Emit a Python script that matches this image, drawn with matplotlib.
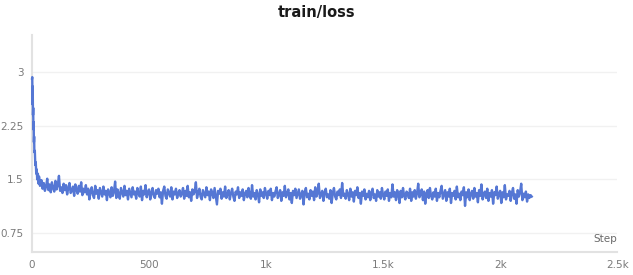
import numpy as np
import matplotlib.pyplot as plt

# ---------------------------------------------------------------------------
# Data (train/loss vs step)
# ---------------------------------------------------------------------------

early_steps = [0, 1, 2, 3, 4, 5, 6, 7, 8, 9, 10, 12, 14, 16, 18, 20, 22, 25, 28, 30, 34]
early_loss = [2.91, 2.93, 2.55, 2.80, 2.40, 2.50, 2.20, 2.30, 2.02, 2.10,
              1.88, 1.90, 1.70, 1.74, 1.58, 1.64, 1.50, 1.58, 1.44, 1.54, 1.41]

# every 5 steps from 40 to 2135
late_loss = [
    1.49, 1.37, 1.45, 1.34, 1.40, 1.51, 1.35, 1.43, 1.32, 1.46, 1.38, 1.33, 1.48, 1.36, 1.42, 1.55, 1.34, 1.39, 1.31, 1.44,
    1.35, 1.42, 1.29, 1.38, 1.45, 1.31, 1.34, 1.40, 1.27, 1.43, 1.36, 1.30, 1.41, 1.33, 1.46, 1.28, 1.37, 1.32, 1.42, 1.29,
    1.37, 1.22, 1.33, 1.39, 1.28, 1.24, 1.41, 1.30, 1.35, 1.23, 1.38, 1.32, 1.26, 1.40, 1.29, 1.34, 1.21, 1.36, 1.31, 1.25,
    1.39, 1.27, 1.33, 1.47, 1.24, 1.36, 1.30, 1.23, 1.38, 1.32, 1.26, 1.41, 1.28, 1.34, 1.22, 1.37, 1.31, 1.25, 1.39, 1.29,
    1.33, 1.23, 1.38, 1.30, 1.26, 1.40, 1.21, 1.34, 1.29, 1.42, 1.25, 1.32, 1.36, 1.22, 1.31, 1.38, 1.27, 1.24, 1.35, 1.30,
    1.37, 1.25, 1.32, 1.16, 1.34, 1.40, 1.27, 1.23, 1.36, 1.31, 1.26, 1.39, 1.22, 1.33, 1.29, 1.37, 1.24, 1.31, 1.35, 1.26,
    1.30, 1.38, 1.23, 1.34, 1.27, 1.41, 1.25, 1.32, 1.20, 1.36, 1.29, 1.33, 1.46, 1.24, 1.31, 1.37, 1.26, 1.22, 1.35, 1.30,
    1.25, 1.39, 1.28, 1.33, 1.21, 1.36, 1.31, 1.24, 1.38, 1.27, 1.15, 1.34, 1.30, 1.37, 1.23, 1.32, 1.26, 1.40, 1.24, 1.29,
    1.35, 1.22, 1.31, 1.37, 1.26, 1.20, 1.33, 1.29, 1.39, 1.24, 1.32, 1.27, 1.36, 1.21, 1.30, 1.34, 1.25, 1.38, 1.28, 1.23,
    1.42, 1.26, 1.31, 1.22, 1.35, 1.29, 1.18, 1.36, 1.27, 1.32, 1.24, 1.38, 1.30, 1.23, 1.34, 1.28, 1.37, 1.21, 1.31, 1.26,
    1.33, 1.39, 1.24, 1.29, 1.35, 1.20, 1.32, 1.27, 1.41, 1.25, 1.30, 1.36, 1.22, 1.31, 1.17, 1.34, 1.28, 1.37, 1.24, 1.30,
    1.36, 1.23, 1.29, 1.34, 1.15, 1.32, 1.38, 1.25, 1.30, 1.22, 1.35, 1.27, 1.33, 1.21, 1.39, 1.26, 1.31, 1.44, 1.24, 1.29,
    1.34, 1.20, 1.32, 1.37, 1.25, 1.29, 1.23, 1.35, 1.17, 1.31, 1.38, 1.26, 1.22, 1.33, 1.28, 1.36, 1.24, 1.45, 1.27, 1.30,
    1.23, 1.35, 1.29, 1.21, 1.37, 1.26, 1.32, 1.19, 1.34, 1.28, 1.39, 1.24, 1.31, 1.16, 1.33, 1.27, 1.36, 1.22, 1.30, 1.25,
    1.34, 1.21, 1.31, 1.37, 1.24, 1.29, 1.20, 1.35, 1.26, 1.32, 1.23, 1.38, 1.28, 1.22, 1.33, 1.27, 1.36, 1.20, 1.31, 1.25,
    1.43, 1.26, 1.32, 1.21, 1.35, 1.29, 1.17, 1.34, 1.25, 1.38, 1.27, 1.22, 1.33, 1.30, 1.24, 1.37, 1.20, 1.32, 1.26, 1.35,
    1.23, 1.31, 1.44, 1.25, 1.29, 1.36, 1.21, 1.33, 1.16, 1.30, 1.35, 1.24, 1.38, 1.27, 1.22, 1.32, 1.26, 1.37, 1.20, 1.31,
    1.25, 1.34, 1.41, 1.23, 1.29, 1.35, 1.20, 1.32, 1.26, 1.37, 1.17, 1.31, 1.27, 1.34, 1.22, 1.40, 1.25, 1.30, 1.21, 1.33,
    1.28, 1.39, 1.13, 1.32, 1.25, 1.36, 1.21, 1.30, 1.34, 1.23, 1.38, 1.26, 1.31, 1.18, 1.35, 1.27, 1.43, 1.22, 1.29, 1.33,
    1.24, 1.37, 1.20, 1.31, 1.26, 1.35, 1.16, 1.32, 1.28, 1.40, 1.23, 1.30, 1.34, 1.17, 1.32, 1.25, 1.42, 1.22, 1.29, 1.27,
    1.34, 1.20, 1.31, 1.38, 1.23, 1.29, 1.16, 1.35, 1.26, 1.32, 1.44, 1.21, 1.30, 1.25, 1.33, 1.19, 1.29, 1.24, 1.28, 1.26,
]
late_steps = list(range(40, 40 + 5 * len(late_loss), 5))

steps = np.array(early_steps + late_steps)
loss = np.array(early_loss + late_loss)

y_ticks = [0.75, 1.5, 2.25, 3]
y_tick_labels = ["0.75", "1.5", "2.25", "3"]
x_ticks = [0, 500, 1000, 1500, 2000, 2500]
x_tick_labels = ["0", "500", "1k", "1.5k", "2k", "2.5k"]

# ---------------------------------------------------------------------------
# Plot
# ---------------------------------------------------------------------------

fig = plt.figure(figsize=(6.33, 2.75), dpi=100)
ax = fig.add_axes([0.0506, 0.0836, 0.9244, 0.7894])

ax.plot(steps, loss, color="#5577d4", linewidth=1.7, solid_joinstyle="round",
        zorder=3, clip_on=False)

ax.set_xlim(0, 2500)
ax.set_ylim(0.485, 3.52)

ax.set_yticks(y_ticks)
ax.set_yticklabels(y_tick_labels)
ax.set_xticks(x_ticks)
ax.set_xticklabels(x_tick_labels)
ax.tick_params(length=0, labelsize=7.5, colors="#7a7a7a", pad=6)

ax.grid(axis="y", color="#f1f1f1", linewidth=1.0)
ax.set_axisbelow(True)

for side in ("top", "right"):
    ax.spines[side].set_visible(False)
for side in ("left", "bottom"):
    ax.spines[side].set_color("#e2e2e2")
    ax.spines[side].set_linewidth(1.5)

ax.text(1.0, 0.035, "Step", transform=ax.transAxes, ha="right", va="bottom",
        fontsize=7.5, color="#6a6a6a")

fig.text(0.5, 0.955, "train/loss", ha="center", va="center",
         fontsize=10.5, fontweight="bold", color="#1a1a1a")

fig.savefig("out.png", dpi=100)
